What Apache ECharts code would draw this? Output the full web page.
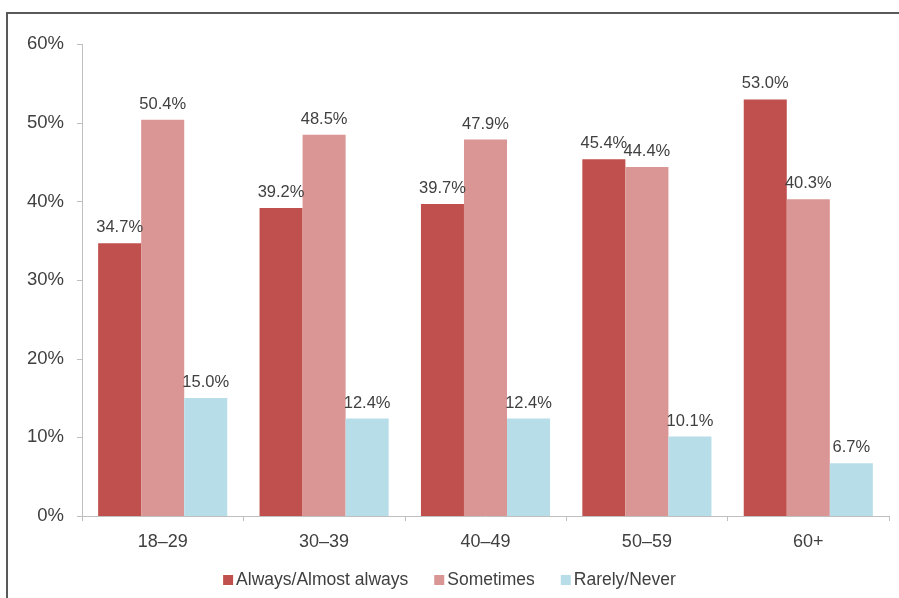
<!DOCTYPE html>
<html><head><meta charset="utf-8">
<script src="https://cdn.jsdelivr.net/npm/echarts@6/dist/echarts.min.js"></script>
<style>html,body{margin:0;padding:0;background:#fff}#c{width:899px;height:598px}</style>
</head><body><div id="c"></div>
<script>
const categories = ['18–29','30–39','40–49','50–59','60+'];
const seriesNames = ['Always/Almost always','Sometimes','Rarely/Never'];
const always = [34.7, 39.2, 39.7, 45.4, 53.0];
const sometimes = [50.4, 48.5, 47.9, 44.4, 40.3];
const rarely = [15.0, 12.4, 12.4, 10.1, 6.7];
const colors = ['#C0504D','#D99694','#B7DEE8'];
const yTicks = {min:0, max:60, interval:10};

const chart = echarts.init(document.getElementById('c'));
const font = 'Arial, "Liberation Sans", sans-serif';
function mk(name, data, color){
  return {name, type:'bar', data, barGap:'0%', barCategoryGap:'20%',
    itemStyle:{color},
    label:{show:true, position:'top', distance:7, color:'#404040', fontSize:16.5, fontFamily:font,
      formatter:p=>p.value.toFixed(1)+'%'}};
}
chart.setOption({
  animation:false,
  graphic:[{type:'rect', shape:{x:7,y:13,width:1000,height:1000}, style:{fill:'none', stroke:'#595959', lineWidth:2}, silent:true}],
  grid:{left:82, right:10, top:44.4, bottom:82},
  legend:{top:566, left:'center', itemWidth:10, itemHeight:10, itemGap:26, icon:'rect',
    textStyle:{color:'#404040', fontSize:17.5, fontFamily:font, padding:[0,0,0,-2]}, data:seriesNames},
  xAxis:{type:'category', data:categories,
    axisLine:{lineStyle:{color:'#BFBFBF'}}, axisTick:{show:true, length:5, lineStyle:{color:'#BFBFBF'}},
    axisLabel:{color:'#404040', fontSize:18, fontFamily:font, margin:17}},
  yAxis:{type:'value', min:yTicks.min, max:yTicks.max, interval:yTicks.interval,
    axisLine:{show:true, lineStyle:{color:'#BFBFBF'}}, axisTick:{show:true, length:5, lineStyle:{color:'#BFBFBF'}},
    splitLine:{show:false},
    axisLabel:{color:'#404040', fontSize:18.5, fontFamily:font, margin:18, formatter:v=>v+'%'}},
  series:[mk(seriesNames[0], always, colors[0]), mk(seriesNames[1], sometimes, colors[1]), mk(seriesNames[2], rarely, colors[2])]
});
</script></body></html>
